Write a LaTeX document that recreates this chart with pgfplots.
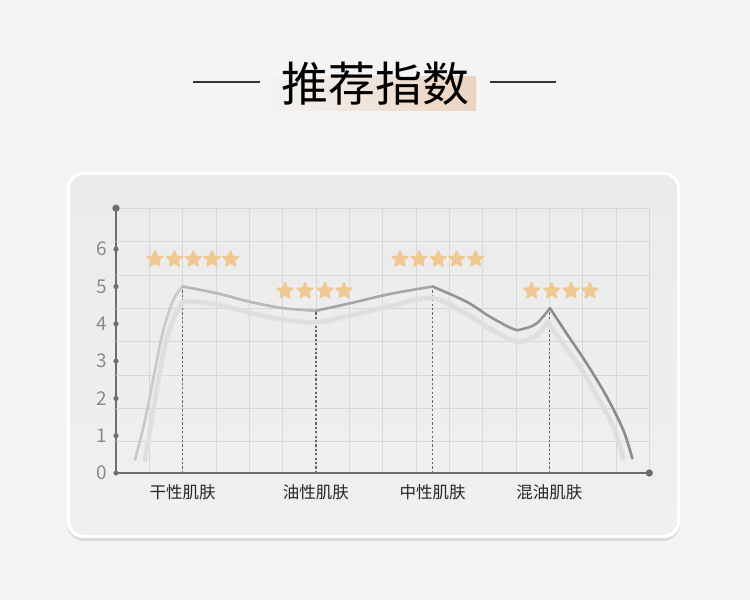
\documentclass[border=0pt]{standalone}
\usepackage{fontspec}
\setmainfont{Noto Sans CJK SC}
\usepackage{pgfplots}
\pgfplotsset{compat=1.18}

\definecolor{bgc}{HTML}{F4F4F4}
\definecolor{paneltop}{HTML}{EBEBEB}
\definecolor{panelbot}{HTML}{F0F0F0}
\definecolor{shadowc}{HTML}{DCDCDC}
\definecolor{gridc}{HTML}{D8D8D8}
\definecolor{axisc}{HTML}{6E6E6E}
\definecolor{tickc}{HTML}{8A8A8A}
\definecolor{starc}{HTML}{F0C891}
\definecolor{peach}{HTML}{EBD3C0}
\definecolor{lineshadow}{HTML}{DEDEDE}

% filled five-point star
\pgfdeclareplotmark{fstar}{%
  \pgfpathmoveto{\pgfpointpolar{90}{\pgfplotmarksize}}%
  \pgfpathlineto{\pgfpointpolar{126}{0.46\pgfplotmarksize}}%
  \pgfpathlineto{\pgfpointpolar{162}{\pgfplotmarksize}}%
  \pgfpathlineto{\pgfpointpolar{198}{0.46\pgfplotmarksize}}%
  \pgfpathlineto{\pgfpointpolar{234}{\pgfplotmarksize}}%
  \pgfpathlineto{\pgfpointpolar{270}{0.46\pgfplotmarksize}}%
  \pgfpathlineto{\pgfpointpolar{306}{\pgfplotmarksize}}%
  \pgfpathlineto{\pgfpointpolar{342}{0.46\pgfplotmarksize}}%
  \pgfpathlineto{\pgfpointpolar{18}{\pgfplotmarksize}}%
  \pgfpathlineto{\pgfpointpolar{54}{0.46\pgfplotmarksize}}%
  \pgfpathclose
  \pgfusepathqfillstroke}

\begin{document}
\begin{tikzpicture}[x=1pt,y=1pt]
\useasboundingbox (0,0) rectangle (750,600);
\fill[bgc] (0,0) rectangle (750,600);

% panel
\fill[shadowc, rounded corners=17] (67,59) rectangle (680,425);
\fill[white, rounded corners=16] (67,62) rectangle (680,428);
\shade[top color=paneltop, bottom color=panelbot, rounded corners=14] (70,65) rectangle (677,425);

% title
\shade[left color=bgc, right color=peach] (262,489) rectangle (476,523);
\draw[line width=1.6pt, black!80] (193,518) -- (260,518);
\draw[line width=1.6pt, black!80] (490,518) -- (556,518);
\node[font=\fontsize{47}{47}\selectfont, text=black] at (375,516) {推荐指数};

\begin{axis}[
  at={(116pt,127pt)}, anchor=south west,
  scale only axis, width=533.3pt, height=264.8pt,
  xmin=0, xmax=16, ymin=0, ymax=7.1,
  axis lines=left,
  axis line style={-, draw=axisc, line width=1.6pt},
  clip=false,
  tick style={draw=none}, major tick length=0pt,
  xtick={1,...,16}, xticklabels={},
  xmajorgrids,
  extra x ticks={2,6,9.5,13},
  extra x tick labels={干性肌肤,油性肌肤,中性肌肤,混油肌肤},
  extra x tick style={grid=none},
  xticklabel style={font=\fontsize{16.5}{16.5}\selectfont, text=black!85, anchor=center, yshift=-19pt},
  ytick={0,...,6},
  /pgf/number format/assume math mode=true,
  yticklabel style={font=\fontsize{19}{19}\selectfont, text=tickc, anchor=east, inner sep=0pt, xshift=-9pt},
  extra y ticks={0.85,1.74,2.63,3.53,4.42,5.31,6.20,7.10},
  extra y tick labels={},
  extra y tick style={grid=major},
  grid style={draw=gridc, line width=0.8pt},
]

% dotted guides
\addplot[ycomb, mark=none, draw=black!60, line width=1.3pt, dash pattern=on 2.2pt off 2.2pt]
  coordinates {(2,5.0) (6,4.35) (9.5,5.0) (13,4.42)};

% soft shadow of the curve
\addplot[smooth, tension=0.55, draw=lineshadow, line width=6pt, opacity=0.35, line cap=round]
  coordinates {(0.87,0.35) (1.12,1.69) (1.42,3.21) (1.67,4.01) (1.92,4.46) (2.1,4.6) (3.0,4.52) (4.0,4.3) (5.0,4.12) (6.0,4.04) (7.0,4.22) (8.2,4.47) (9.5,4.69) (10.5,4.27) (11.2,3.88) (11.9,3.55) (12.2,3.53) (12.6,3.68) (12.95,4.05)};
\addplot[smooth, tension=0.55, draw=lineshadow, line width=6pt, opacity=0.35, line cap=round]
  coordinates {(12.95,4.05) (13.5,3.35) (13.92,2.85) (14.4,2.1) (14.92,1.24) (15.22,0.39)};
\addplot[smooth, tension=0.55, draw=lineshadow, line width=3.8pt, line cap=round]
  coordinates {(0.87,0.35) (1.12,1.69) (1.42,3.21) (1.67,4.01) (1.92,4.46) (2.1,4.6) (3.0,4.52) (4.0,4.3) (5.0,4.12) (6.0,4.04) (7.0,4.22) (8.2,4.47) (9.5,4.69) (10.5,4.27) (11.2,3.88) (11.9,3.55) (12.2,3.53) (12.6,3.68) (12.95,4.05)};
\addplot[smooth, tension=0.55, draw=lineshadow, line width=3.8pt, line cap=round]
  coordinates {(12.95,4.05) (13.5,3.35) (13.92,2.85) (14.4,2.1) (14.92,1.24) (15.22,0.39)};

% main curve, lighter on the left
\addplot[smooth, tension=0.55, draw=black!21, line width=2.6pt, line cap=round]
  coordinates {(0.57,0.35) (0.87,1.42) (1.17,2.76) (1.37,3.65) (1.57,4.28) (1.77,4.73) (2.0,5.0)};
\addplot[smooth, tension=0.55, draw=black!28, line width=2.6pt, line cap=round]
  coordinates {(2.0,5.0) (3.02,4.82) (4.02,4.59) (5.01,4.42) (6.0,4.35)};
\addplot[smooth, tension=0.55, draw=black!35, line width=2.6pt, line cap=round]
  coordinates {(6.0,4.35) (7.02,4.55) (8.22,4.80) (9.5,5.0)};
\addplot[smooth, tension=0.55, draw=black!42, line width=2.6pt, line cap=round]
  coordinates {(9.5,5.0) (10.52,4.59) (11.22,4.19) (11.92,3.86) (12.2,3.86) (12.62,4.01) (13.02,4.42)};
\addplot[smooth, tension=0.55, draw=black!45, line width=2.6pt, line cap=round]
  coordinates {(13.02,4.42) (13.52,3.74) (14.12,2.94) (14.72,2.05) (15.22,1.15) (15.49,0.39)};

% stars
\addplot[only marks, mark=fstar, mark size=8.4pt, mark options={fill=starc, draw=starc, line width=1.3pt, line join=round}]
  coordinates {(1.17,5.73) (1.75,5.73) (2.32,5.73) (2.88,5.73) (3.44,5.73)
               (5.07,4.88) (5.67,4.88) (6.27,4.88) (6.84,4.88)
               (8.52,5.73) (9.09,5.73) (9.67,5.73) (10.22,5.73) (10.79,5.73)
               (12.47,4.88) (13.07,4.88) (13.65,4.88) (14.22,4.88)};

% axis dots
\addplot[only marks, mark=*, mark size=2.3pt, mark options={fill=axisc, draw=axisc}]
  coordinates {(0,0) (0,1) (0,2) (0,3) (0,4) (0,5) (0,6)};
\addplot[only marks, mark=*, mark size=3.4pt, mark options={fill=axisc, draw=axisc}]
  coordinates {(0,7.1) (16,0)};
\end{axis}
\end{tikzpicture}
\end{document}
